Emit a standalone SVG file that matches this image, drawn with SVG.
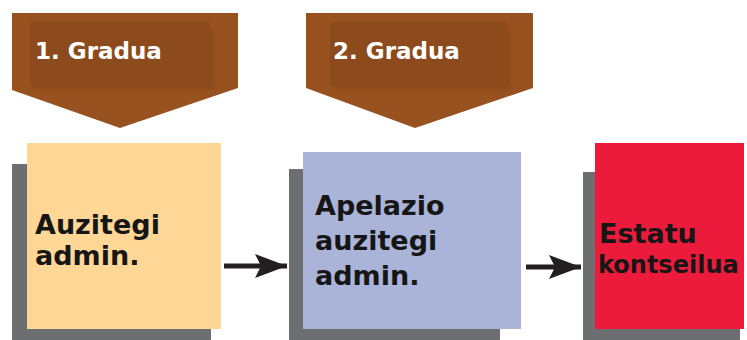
<svg xmlns="http://www.w3.org/2000/svg" width="747" height="340" viewBox="0 0 747 340">
<defs>
<style>
.step{fill:#97521f}
.stepin{fill:#8d4b1d}
.steptxt{font-family:"DejaVu Sans",Verdana,sans-serif;font-weight:bold;font-size:23px;fill:#ffffff}
.shadow{fill:#6d6e71}
.lbl{font-family:"DejaVu Sans",Verdana,sans-serif;font-weight:bold;font-size:27px;fill:#161616}
.conn{stroke:#231f20;stroke-width:5;fill:none}
</style>
<filter id="blur" x="-10%" y="-10%" width="120%" height="140%"><feGaussianBlur stdDeviation="2"/></filter>
<marker id="arr" markerUnits="userSpaceOnUse" markerWidth="34" markerHeight="26" refX="32" refY="12" orient="auto">
<path d="M32,12 L0,0 L6,12 L0,24 Z" fill="#231f20"/>
</marker>
</defs>
<g id="step1">
<polygon class="step" points="12,13 238,13 238,88 120,128 12,90"/>
<rect x="34" y="30" width="178" height="58" fill="#7a3f17" opacity="0.6" filter="url(#blur)"/>
<rect class="stepin" x="30" y="22" width="180" height="63"/>
<text class="steptxt" x="35" y="59">1. Gradua</text>
</g>
<g id="step2">
<polygon class="step" points="306,13 533,13 533,88 415,128 306,88"/>
<rect x="334" y="30" width="175" height="58" fill="#7a3f17" opacity="0.6" filter="url(#blur)"/>
<rect class="stepin" x="330" y="22" width="177" height="63"/>
<text class="steptxt" x="333" y="59">2. Gradua</text>
</g>
<g id="node1">
<rect class="shadow" x="12" y="164" width="199" height="176"/>
<rect x="27" y="143" width="194" height="186" fill="#fed797"/>
<text class="lbl" x="35" y="234">Auzitegi</text>
<text class="lbl" x="35" y="265">admin.</text>
</g>
<g id="node2">
<rect class="shadow" x="289" y="169" width="211" height="171"/>
<rect x="303" y="152" width="218" height="177" fill="#aab3d8"/>
<text class="lbl" x="315" y="215">Apelazio</text>
<text class="lbl" x="315" y="250">auzitegi</text>
<text class="lbl" x="315" y="285">admin.</text>
</g>
<g id="node3">
<rect class="shadow" x="583" y="172" width="157" height="168"/>
<rect x="595" y="143" width="149" height="186" fill="#ed1b3b"/>
<text class="lbl" x="599" y="243">Estatu</text>
<text class="lbl" x="598" y="273" style="font-size:24px">kontseilua</text>
</g>
<g id="connectors">
<line class="conn" x1="224" y1="266" x2="287" y2="266" marker-end="url(#arr)"/>
<line class="conn" x1="526" y1="267" x2="581" y2="267" marker-end="url(#arr)"/>
</g>
</svg>
